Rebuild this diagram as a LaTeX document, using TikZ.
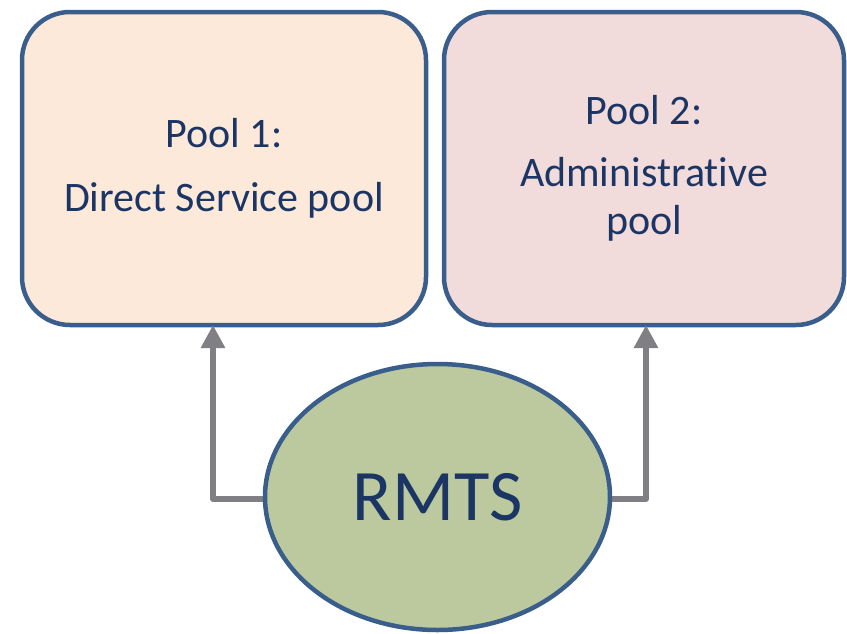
\documentclass[tikz,border=0pt]{standalone}
\usepackage{fontspec}
\setmainfont[Ligatures={NoCommon}]{Carlito}
\usepackage{tikz}
\usetikzlibrary{arrows.meta,shapes.geometric,positioning}
\definecolor{edge}{HTML}{3A5E8C}
\definecolor{ink}{HTML}{1B3564}
\definecolor{peach}{HTML}{FDE9DA}
\definecolor{rose}{HTML}{F2DCDB}
\definecolor{olive}{HTML}{BCC99F}
\definecolor{arrowgray}{HTML}{808084}
\tikzset{
  poolbox/.style={draw=edge, line width=4.5pt, rounded corners=48pt, align=center, text=ink,
    font=\fontsize{42}{48}\selectfont, minimum height=313pt, inner sep=0pt, outer sep=0pt},
  hub/.style={ellipse, draw=edge, line width=4.5pt, fill=olive, text=ink,
    font=\fontsize{72.5}{86}\selectfont, minimum width=345pt, minimum height=266pt, inner sep=0pt, outer sep=0pt},
  conn/.style={draw=arrowgray, line width=6pt, line join=round, -{Triangle[length=23pt,width=23pt]}},
}
\begin{document}
\begin{tikzpicture}[x=1pt,y=-1pt]
\useasboundingbox (0,0) rectangle (847,633);
\node[poolbox, fill=peach, minimum width=404pt] (box1) at (224,168.5) {Pool 1:\\[16pt]Direct Service pool};
\node[poolbox, fill=rose, minimum width=400pt] (box2) at (644,168.5) {Pool 2:\\[14pt]Administrative\\pool};
\coordinate (in1) at ([xshift=-11pt]box1.south);
\coordinate (in2) at ([xshift=2pt]box2.south);
\draw[conn] (437.5,499) -| (in1);
\draw[conn] (437.5,499) -| (in2);
\node[hub] (rmts) at (437.5,497) {RMTS};
\end{tikzpicture}
\end{document}
